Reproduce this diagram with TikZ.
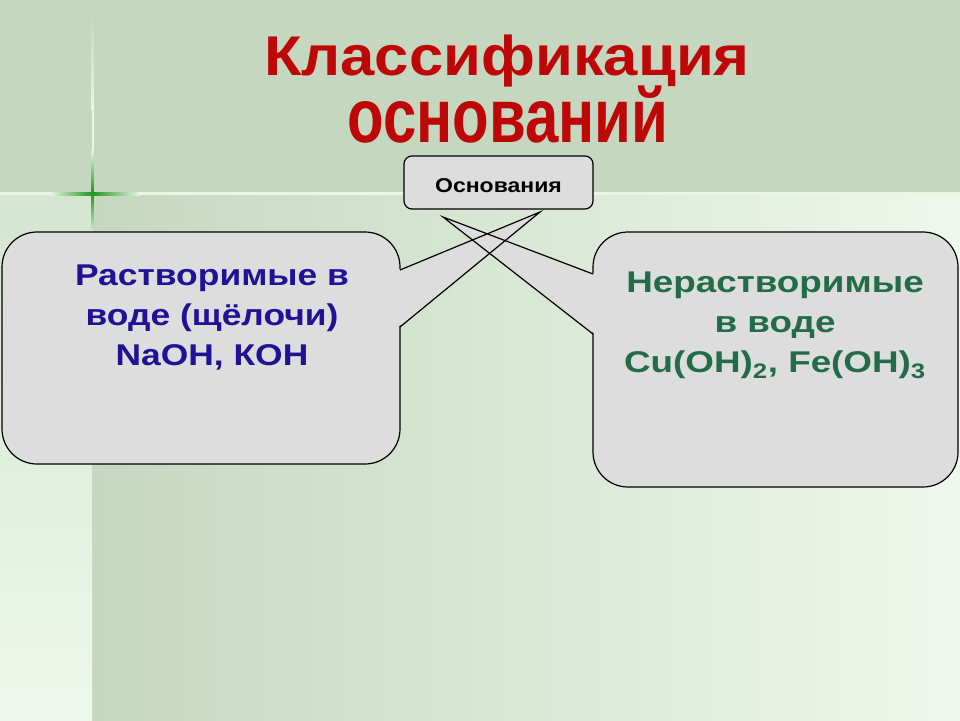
\documentclass[tikz,border=0pt]{standalone}
\usepackage{fontspec}
\setmainfont{Liberation Sans}
\definecolor{bandc}{RGB}{198,215,191}
\definecolor{lightc}{RGB}{238,248,236}
\definecolor{stripTop}{RGB}{212,230,207}
\definecolor{lineLight}{RGB}{232,246,226}
\definecolor{crossG}{RGB}{30,150,30}
\definecolor{titleRed}{RGB}{190,8,8}
\definecolor{boxGrey}{RGB}{221,221,221}
\definecolor{textBlue}{RGB}{32,18,150}
\definecolor{textGreen}{RGB}{34,108,72}
\tikzset{
  boxstyle/.style={draw=black, fill=boxGrey, line width=1.2pt, rounded corners=#1},
  wedgefill/.style={fill=boxGrey},
  wedgeline/.style={draw=black, line width=1.2pt},
  bigtext/.style={font=\fontsize{30}{40}\selectfont\bfseries, align=center, inner sep=0pt, xscale=1.18},
  titletext/.style={text=titleRed, font=\fontsize{56}{64}\selectfont\bfseries, inner sep=0pt, anchor=base},
}
\begin{document}
\begin{tikzpicture}[x=1pt,y=-1pt]
\useasboundingbox (0,0) rectangle (960,720);
% background
\fill[bandc] (0,0) rectangle (960,193);
\shade[left color=bandc, right color=lightc] (92,193) rectangle (960,720);
\shade[top color=stripTop, bottom color=lightc] (0,193) rectangle (92,720);
% light horizontal line and green cross
\fill[lineLight] (0,192) rectangle (960,195);
\shade[left color=lineLight, right color=crossG] (50,192) rectangle (92,195);
\shade[left color=crossG, right color=lineLight] (92,192) rectangle (140,195);
\shade[top color=bandc, bottom color=lineLight] (91.5,15) rectangle (93.5,110);
\shade[top color=lineLight, bottom color=crossG] (91.5,150) rectangle (93.5,193);
\fill[lineLight] (91.5,110) rectangle (93.5,150);
\shade[top color=crossG, bottom color=lineLight!60!bandc] (91.5,193) rectangle (93.5,232);
% title
\node[titletext, xscale=1.1] (title1) at (507,75) {Классификация};
\node[titletext, xscale=1.07, yscale=1.36] (title2) at (508,142) {оснований};
% top box
\node[boxstyle=8pt, minimum width=189pt, minimum height=53pt, inner sep=0pt] (root) at (498.5,182.5) {};
\node[font=\fontsize{20}{22}\selectfont\bfseries, inner sep=0pt, anchor=base, xscale=1.15] (rootlbl) at (498.5,192) {Основания};
% callout rectangles
\draw[boxstyle=35pt] (2,232) rectangle (400,464);
\draw[boxstyle=35pt] (593,232) rectangle (958,487);
% pointer wedges
\coordinate (ltip) at (540,212);
\coordinate (la) at (400,270);
\coordinate (lb) at (400,327);
\coordinate (rtip) at (443,217);
\coordinate (ra) at (593,274);
\coordinate (rb) at (593,334);
\fill[wedgefill] ([xshift=-2pt]la) -- (ltip) -- ([xshift=-2pt]lb) -- cycle;
\fill[wedgefill] ([xshift=2pt]ra) -- (rtip) -- ([xshift=2pt]rb) -- cycle;
\draw[wedgeline] (la) -- (ltip) -- (lb);
\draw[wedgeline] (ra) -- (rtip) -- (rb);
% texts
\node[bigtext, text=textBlue, anchor=base] (ltext) at (212,365) {Растворимые в\\воде (щёлочи)\\NaOH, КОН};
\node[bigtext, text=textGreen, anchor=base, xscale=1.04] (rtext) at (775,372) {Нерастворимые\\в воде\\Cu(OH)\textsubscript{2}, Fe(OH)\textsubscript{3}};
\end{tikzpicture}
\end{document}
